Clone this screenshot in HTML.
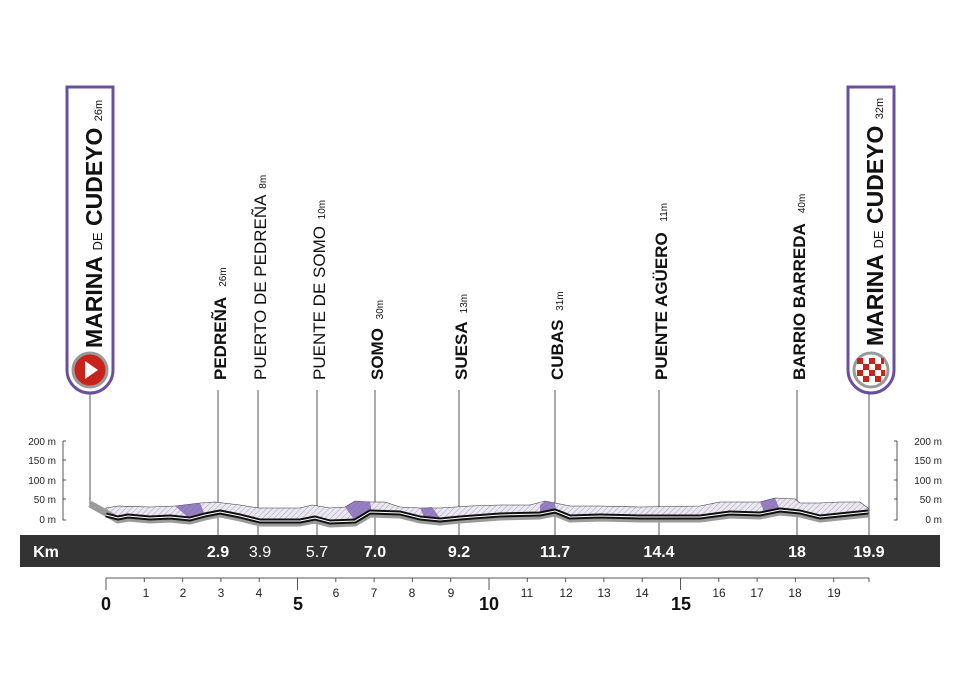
<!DOCTYPE html>
<html><head><meta charset="utf-8"><style>
html,body{margin:0;padding:0;background:#fff;}
svg{display:block;font-family:"Liberation Sans",sans-serif;}
</style></head><body>
<svg width="960" height="678" viewBox="0 0 960 678" xmlns="http://www.w3.org/2000/svg">
<defs>
<pattern id="h" width="4" height="4" patternUnits="userSpaceOnUse" patternTransform="rotate(45)">
<rect width="4" height="4" fill="#ece8f2"/><line x1="0" y1="0" x2="0" y2="4" stroke="#a59cb5" stroke-width="1"/></pattern>
</defs>
<!-- start box -->
<path d="M67 87 V370 A23 23 0 0 0 113 370 V87 Z" fill="#fff" stroke="#6a4fa0" stroke-width="3"/>
<circle cx="90" cy="370" r="17" fill="#c8231b" stroke="#999" stroke-width="3"/>
<polygon points="85,361 85,379 98,370" fill="#fff"/>
<text transform="translate(102,348) rotate(-90)" font-size="23" font-weight="bold" fill="#111">MARINA <tspan font-size="13" font-weight="normal">DE</tspan> CUDEYO <tspan font-size="11" font-weight="normal">26m</tspan></text>
<!-- end box -->
<path d="M848 87 V370 A23 23 0 0 0 894 370 V87 Z" fill="#fff" stroke="#6a4fa0" stroke-width="3"/>
<circle cx="871" cy="370" r="17" fill="#fff" stroke="#999" stroke-width="3"/>
<g fill="#c8231b">
<rect x="857" y="358" width="6" height="6"/><rect x="869" y="358" width="6" height="6"/><rect x="863" y="364" width="6" height="6"/><rect x="875" y="364" width="6" height="6"/><rect x="857" y="370" width="6" height="6"/><rect x="869" y="370" width="6" height="6"/><rect x="863" y="376" width="6" height="6"/><rect x="875" y="376" width="6" height="6"/><rect x="881" y="370" width="4" height="6"/><rect x="881" y="358" width="3" height="6"/></g>
<text transform="translate(883,346) rotate(-90)" font-size="23" font-weight="bold" fill="#111">MARINA <tspan font-size="13" font-weight="normal">DE</tspan> CUDEYO <tspan font-size="11" font-weight="normal">32m</tspan></text>
<!-- vertical lines -->
<g stroke="#555" stroke-width="1">
<line x1="90" y1="393" x2="90" y2="505"/><line x1="869" y1="393" x2="869" y2="535"/>
<line x1="218" y1="390" x2="218" y2="535"/><line x1="258" y1="390" x2="258" y2="535"/>
<line x1="317" y1="390" x2="317" y2="535"/><line x1="375" y1="390" x2="375" y2="535"/>
<line x1="459" y1="390" x2="459" y2="535"/><line x1="555" y1="390" x2="555" y2="535"/>
<line x1="659" y1="390" x2="659" y2="535"/><line x1="797" y1="390" x2="797" y2="535"/>
</g>
<!-- labels -->
<g fill="#111" font-size="17">
<text transform="translate(226,380) rotate(-90)" font-weight="bold">PEDREÑA <tspan font-size="10" font-weight="normal" dx="6">26m</tspan></text>
<text transform="translate(266,380) rotate(-90)">PUERTO DE PEDREÑA <tspan font-size="10" dx="2">8m</tspan></text>
<text transform="translate(325,380) rotate(-90)">PUENTE DE SOMO <tspan font-size="10" dx="2">10m</tspan></text>
<text transform="translate(383,380) rotate(-90)" font-weight="bold">SOMO <tspan font-size="10" font-weight="normal" dx="4">30m</tspan></text>
<text transform="translate(467,380) rotate(-90)" font-weight="bold">SUESA <tspan font-size="10" font-weight="normal" dx="4">13m</tspan></text>
<text transform="translate(563,380) rotate(-90)" font-weight="bold">CUBAS <tspan font-size="10" font-weight="normal" dx="4">31m</tspan></text>
<text transform="translate(667,380) rotate(-90)" font-weight="bold">PUENTE AGÜERO <tspan font-size="10" font-weight="normal" dx="6">11m</tspan></text>
<text transform="translate(805,380) rotate(-90)" font-weight="bold">BARRIO BARREDA <tspan font-size="10" font-weight="normal" dx="6">40m</tspan></text>
</g>
<!-- elevation axes -->
<g stroke="#555" stroke-width="1" fill="none">
<path d="M63 441 H66 M63 441 V520 H66 M63 460 H66 M63 480 H66 M63 499 H66"/>
<path d="M897 441 H894 M897 441 V520 H894 M897 460 H894 M897 480 H894 M897 499 H894"/>
</g>
<g font-size="10" fill="#222" text-anchor="end">
<text x="56" y="445">200 m</text><text x="56" y="464">150 m</text><text x="56" y="484">100 m</text><text x="56" y="503">50 m</text><text x="56" y="523">0 m</text>
</g>
<g font-size="10" fill="#222" text-anchor="end">
<text x="942" y="445">200 m</text><text x="942" y="464">150 m</text><text x="942" y="484">100 m</text><text x="942" y="503">50 m</text><text x="942" y="523">0 m</text>
</g>
<!-- profile band -->
<polygon fill="url(#h)" stroke="#333" stroke-width="0.6" points="106,508 118,506 150,507 175,506 200,503 215,502 240,505 258,508 300,508 312,505 330,508 345,507 355,501 370,502 385,502 400,507 420,508 440,508 470,506 500,505 530,505 545,501 555,503 570,506 600,506 640,507 700,506 720,502 760,502 775,498 795,499 800,503 820,503 840,502 860,502 868,508 868,514 820,519 800,513 780,512 760,516 730,515 700,519 640,519 600,518 570,519 555,513 540,516 500,517 460,520 440,522 420,520 400,515 370,514 355,523 330,524 315,520 300,523 260,523 240,518 220,514 205,517 190,521 170,519 150,520 128,518 118,520 106,515"/>
<g fill="#7a5cb0" opacity="0.75">
<polygon points="175,506 200,503 205,515 190,519"/>
<polygon points="345,507 355,501 370,502 372,512 355,521"/>
<polygon points="540,505 545,501 555,503 556,511 540,514"/>
<polygon points="420,508 432,507 440,518 425,519"/>
<polygon points="760,502 775,498 780,510 765,514"/>
</g>
<!-- shadow and line -->
<polyline fill="none" stroke="#9a9a9a" stroke-width="7" stroke-linejoin="round" points="90,504 106,513 118,520 128,518 150,520 170,519 190,521 205,517 220,514 240,518 260,523 300,523 315,520 330,524 355,523 370,514 400,515 420,520 440,522 460,520 500,517 540,516 555,513 570,519 600,518 640,519 700,519 730,515 760,516 780,512 800,514 820,519 868,514"/>
<polyline fill="none" stroke="#111" stroke-width="5" stroke-linejoin="round" points="106,515 118,518 128,516 150,518 170,517 190,519 205,515 220,512 240,516 260,521 300,521 315,518 330,522 355,521 370,512 400,513 420,518 440,520 460,518 500,515 540,514 555,511 570,517 600,516 640,517 700,517 730,513 760,514 780,510 800,512 820,517 868,512"/>
<polyline fill="none" stroke="#fff" stroke-width="1" points="106,515 118,518 128,516 150,518 170,517 190,519 205,515 220,512 240,516 260,521 300,521 315,518 330,522 355,521 370,512 400,513 420,518 440,520 460,518 500,515 540,514 555,511 570,517 600,516 640,517 700,517 730,513 760,514 780,510 800,512 820,517 868,512"/>
<!-- km bar -->
<rect x="20" y="535" width="920" height="32" fill="#333"/>
<g fill="#fff" font-size="16" text-anchor="middle">
<text x="46" y="557" font-weight="bold">Km</text>
<text x="218" y="557" font-weight="bold">2.9</text>
<text x="260" y="557">3.9</text>
<text x="317" y="557">5.7</text>
<text x="375" y="557" font-weight="bold">7.0</text>
<text x="459" y="557" font-weight="bold">9.2</text>
<text x="555" y="557" font-weight="bold">11.7</text>
<text x="659" y="557" font-weight="bold">14.4</text>
<text x="797" y="557" font-weight="bold">18</text>
<text x="869" y="557" font-weight="bold">19.9</text>
</g>
<!-- km axis -->
<g stroke="#555" stroke-width="1">
<line x1="106" y1="578" x2="869" y2="578"/>
<line x1="106" y1="578" x2="106" y2="590"/><line x1="869" y1="578" x2="869" y2="582"/>
<line x1="144.3" y1="578" x2="144.3" y2="582"/><line x1="182.6" y1="578" x2="182.6" y2="582"/><line x1="220.9" y1="578" x2="220.9" y2="582"/><line x1="259.2" y1="578" x2="259.2" y2="582"/><line x1="297.5" y1="578" x2="297.5" y2="590"/><line x1="335.8" y1="578" x2="335.8" y2="582"/><line x1="374.1" y1="578" x2="374.1" y2="582"/><line x1="412.4" y1="578" x2="412.4" y2="582"/><line x1="450.7" y1="578" x2="450.7" y2="582"/><line x1="489" y1="578" x2="489" y2="590"/><line x1="527.3" y1="578" x2="527.3" y2="582"/><line x1="565.6" y1="578" x2="565.6" y2="582"/><line x1="603.9" y1="578" x2="603.9" y2="582"/><line x1="642.2" y1="578" x2="642.2" y2="582"/><line x1="680.5" y1="578" x2="680.5" y2="590"/><line x1="718.8" y1="578" x2="718.8" y2="582"/><line x1="757.1" y1="578" x2="757.1" y2="582"/><line x1="795.4" y1="578" x2="795.4" y2="582"/><line x1="833.7" y1="578" x2="833.7" y2="582"/>
</g>
<g font-size="12" fill="#222" text-anchor="middle">
<text x="146" y="597">1</text><text x="183" y="597">2</text><text x="221" y="597">3</text><text x="259" y="597">4</text><text x="336" y="597">6</text><text x="374" y="597">7</text><text x="412" y="597">8</text><text x="451" y="597">9</text><text x="527" y="597">11</text><text x="566" y="597">12</text><text x="604" y="597">13</text><text x="642" y="597">14</text><text x="719" y="597">16</text><text x="757" y="597">17</text><text x="795" y="597">18</text><text x="834" y="597">19</text>
</g>
<g font-size="18" font-weight="bold" fill="#111" text-anchor="middle">
<text x="106" y="610">0</text><text x="298" y="610">5</text><text x="489" y="610">10</text><text x="681" y="610">15</text>
</g>
</svg>
</body></html>
